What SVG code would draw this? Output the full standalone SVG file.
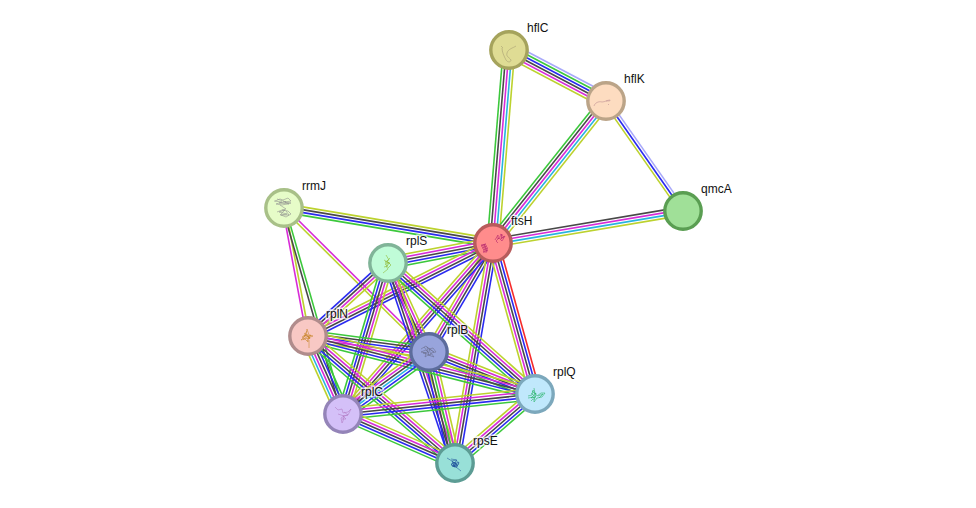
<svg xmlns="http://www.w3.org/2000/svg" width="976" height="508" viewBox="0 0 976 508">
<style>
  line { stroke-width: 1.6; fill: none; }
  .g { stroke: #3cc83c; } .b { stroke: #2a2af0; } .k { stroke: #484848; } .m { stroke: #d82bd8; }
  .c { stroke: #28b4e0; } .y { stroke: #bcd22e; } .r { stroke: #f52a2a; } .l { stroke: #a8a8fa; }
  circle { stroke-width: 3.4; }
  .fold { fill: none; stroke-width: 0.55; stroke-linejoin: round; }
  text { font-family: "Liberation Sans", Arial, sans-serif; font-size: 12px; fill: #111; stroke: #fff; stroke-width: 3px; stroke-opacity: 0.7; paint-order: stroke; }
</style>
<defs>
  <!-- evidence bundles: unit length along x, spaced across y -->
  <g id="lby"><line class="l" x2="1" y1="-2.8" y2="-2.8"/><line class="b" x2="1"/><line class="y" x2="1" y1="2.8" y2="2.8"/></g>
  <g id="my"><line class="m" x2="1" y1="-1.4" y2="-1.4"/><line class="y" x2="1" y1="1.4" y2="1.4"/></g>
  <g id="kg"><line class="k" x2="1" y1="-1.4" y2="-1.4"/><line class="g" x2="1" y1="1.4" y2="1.4"/></g>
  <g id="ykbg"><line class="y" x2="1" y1="-4.2" y2="-4.2"/><line class="k" x2="1" y1="-1.4" y2="-1.4"/><line class="b" x2="1" y1="1.4" y2="1.4"/><line class="g" x2="1" y1="4.2" y2="4.2"/></g>
  <g id="kmcy"><line class="k" x2="1" y1="-4.2" y2="-4.2"/><line class="m" x2="1" y1="-1.4" y2="-1.4"/><line class="c" x2="1" y1="1.4" y2="1.4"/><line class="y" x2="1" y1="4.2" y2="4.2"/></g>
  <g id="ymkb"><line class="y" x2="1" y1="-4.2" y2="-4.2"/><line class="m" x2="1" y1="-1.4" y2="-1.4"/><line class="k" x2="1" y1="1.4" y2="1.4"/><line class="b" x2="1" y1="4.2" y2="4.2"/></g>
  <g id="bkmy"><line class="b" x2="1" y1="-4.2" y2="-4.2"/><line class="k" x2="1" y1="-1.4" y2="-1.4"/><line class="m" x2="1" y1="1.4" y2="1.4"/><line class="y" x2="1" y1="4.2" y2="4.2"/></g>
  <g id="gkmcy"><line class="g" x2="1" y1="-5.8" y2="-5.8"/><line class="k" x2="1" y1="-2.9" y2="-2.9"/><line class="m" x2="1"/><line class="c" x2="1" y1="2.9" y2="2.9"/><line class="y" x2="1" y1="5.8" y2="5.8"/></g>
  <g id="ymkbg"><line class="y" x2="1" y1="-5.6" y2="-5.6"/><line class="m" x2="1" y1="-2.8" y2="-2.8"/><line class="k" x2="1"/><line class="b" x2="1" y1="2.8" y2="2.8"/><line class="g" x2="1" y1="5.6" y2="5.6"/></g>
  <g id="ymkbr"><line class="y" x2="1" y1="-5.6" y2="-5.6"/><line class="m" x2="1" y1="-2.8" y2="-2.8"/><line class="k" x2="1"/><line class="b" x2="1" y1="2.8" y2="2.8"/><line class="r" x2="1" y1="5.6" y2="5.6"/></g>
  <g id="gbkmy"><line class="g" x2="1" y1="-5.6" y2="-5.6"/><line class="b" x2="1" y1="-2.8" y2="-2.8"/><line class="k" x2="1"/><line class="m" x2="1" y1="2.8" y2="2.8"/><line class="y" x2="1" y1="5.6" y2="5.6"/></g>
  <g id="bkgmy"><line class="b" x2="1" y1="-5.6" y2="-5.6"/><line class="k" x2="1" y1="-2.8" y2="-2.8"/><line class="g" x2="1"/><line class="m" x2="1" y1="2.8" y2="2.8"/><line class="y" x2="1" y1="5.6" y2="5.6"/></g>
  <g id="gkbmy"><line class="g" x2="1" y1="-5.6" y2="-5.6"/><line class="k" x2="1" y1="-2.8" y2="-2.8"/><line class="b" x2="1"/><line class="m" x2="1" y1="2.8" y2="2.8"/><line class="y" x2="1" y1="5.6" y2="5.6"/></g>
  <g id="lgbkmy"><line class="l" x2="1" y1="-7" y2="-7"/><line class="g" x2="1" y1="-4.2" y2="-4.2"/><line class="b" x2="1" y1="-1.4" y2="-1.4"/><line class="k" x2="1" y1="1.4" y2="1.4"/><line class="m" x2="1" y1="4.2" y2="4.2"/><line class="y" x2="1" y1="7" y2="7"/></g>
  <g id="ycmkbg"><line class="y" x2="1" y1="-7" y2="-7"/><line class="c" x2="1" y1="-4.2" y2="-4.2"/><line class="m" x2="1" y1="-1.4" y2="-1.4"/><line class="k" x2="1" y1="1.4" y2="1.4"/><line class="b" x2="1" y1="4.2" y2="4.2"/><line class="g" x2="1" y1="7" y2="7"/></g>
  <g id="ymkcbg"><line class="y" x2="1" y1="-7" y2="-7"/><line class="m" x2="1" y1="-4.2" y2="-4.2"/><line class="k" x2="1" y1="-1.4" y2="-1.4"/><line class="c" x2="1" y1="1.4" y2="1.4"/><line class="b" x2="1" y1="4.2" y2="4.2"/><line class="g" x2="1" y1="7" y2="7"/></g>
</defs>

<g id="connectors">
  <use id="hflC-hflK" href="#lgbkmy" transform="matrix(97 51 -.465 .885 509 50)"/>
  <use id="ftsH-hflC" href="#gkmcy" transform="matrix(16 -193 .996 .083 493 243)"/>
  <use id="ftsH-hflK" href="#gkmcy" transform="matrix(113 -142 .782 .623 493 243)"/>
  <use id="hflK-qmcA" href="#lby" transform="matrix(77 110 -.819 .573 606 101)"/>
  <use id="ftsH-qmcA" href="#kmcy" transform="matrix(190 -32 .166 .986 493 243)"/>
  <use id="rrmJ-ftsH" href="#ykbg" transform="matrix(209 35 -.165 .986 284 208)"/>
  <use id="rplN-rrmJ" href="#my" transform="matrix(-24 -128 .983 -.184 308 336)"/>
  <use id="rplC-rrmJ" href="#kg" transform="matrix(-59 -206 .961 -.275 343 414)"/>
  <use id="rrmJ-rplB" href="#my" transform="matrix(145 144 -.705 .709 284 208)"/>
  <use id="rplS-ftsH" href="#ymkbg" transform="matrix(105 -20 .187 .982 388 263)"/>
  <use id="rplN-ftsH" href="#ymkb" transform="matrix(185 -93 .449 .894 308 336)"/>
  <use id="rplB-ftsH" href="#ymkb" transform="matrix(64 -109 .862 .506 429 352)"/>
  <use id="rplC-ftsH" href="#ymkb" transform="matrix(150 -171 .752 .659 343 414)"/>
  <use id="rpsE-ftsH" href="#ymkb" transform="matrix(38 -220 .985 .170 455 463)"/>
  <use id="rplQ-ftsH" href="#ymkbr" transform="matrix(-42 -151 .964 -.268 535 394)"/>
  <use id="rplN-rplS" href="#bkmy" transform="matrix(80 -73 .674 .739 308 336)"/>
  <use id="rplB-rplS" href="#bkmy" transform="matrix(-41 -89 .908 -.418 429 352)"/>
  <use id="rplS-rplQ" href="#ymkbg" transform="matrix(147 131 -.665 .747 388 263)"/>
  <use id="rplC-rplS" href="#gbkmy" transform="matrix(45 -151 .958 .286 343 414)"/>
  <use id="rpsE-rplS" href="#bkmy" transform="matrix(-67 -200 .948 -.318 455 463)"/>
  <use id="rpsE-rplB" href="#bkgmy" transform="matrix(-26 -111 .974 -.228 455 463)"/>
  <use id="rplB-rplQ" href="#ymkbg" transform="matrix(106 42 -.368 .930 429 352)"/>
  <use id="rplN-rplB" href="#gkbmy" transform="matrix(121 16 -.131 .991 308 336)"/>
  <use id="rplN-rplQ" href="#ymkbg" transform="matrix(227 58 -.248 .969 308 336)"/>
  <use id="rplC-rplN" href="#ycmkbg" transform="matrix(-35 -78 .912 -.409 343 414)"/>
  <use id="rplN-rpsE" href="#ymkbg" transform="matrix(147 127 -.654 .757 308 336)"/>
  <use id="rplC-rplB" href="#ymkcbg" transform="matrix(86 -62 .585 .811 343 414)"/>
  <use id="rplC-rplQ" href="#ymkbg" transform="matrix(192 -20 .104 .995 343 414)"/>
  <use id="rplC-rpsE" href="#ymkbg" transform="matrix(112 49 -.401 .916 343 414)"/>
  <use id="rpsE-rplQ" href="#ymkbg" transform="matrix(80 -69 .653 .757 455 463)"/>
</g>

<g id="node-hflC">
  <circle cx="509" cy="50" r="18.2" fill="#dfdc94" stroke="#a5a35c"/>
  <path class="fold" stroke="#a39a70" d="M502 48c0 4 2 8 4 12 2 3 5 2 5 0-2-3-5-3-4-7 1-4 6-5 9-7M501 46l2 2"/>
  <text x="527" y="32">hflC</text>
</g>
<g id="node-hflK">
  <circle cx="606" cy="101" r="18.2" fill="#fddcc0" stroke="#bba488"/>
  <path class="fold" stroke="#b98a90" d="M594 106c1-3 4-5 8-4 3 0 5-2 8-2 1 1-2 1-4 1M608 104l1 1"/>
  <text x="624" y="83">hflK</text>
</g>
<g id="node-qmcA">
  <circle cx="683" cy="211" r="18.2" fill="#a0e098" stroke="#5a9e52"/>
  <text x="701" y="193">qmcA</text>
</g>
<g id="node-ftsH">
  <circle cx="493" cy="243" r="18.2" fill="#ff8c8c" stroke="#b85c5c"/>
  <path class="fold" stroke="#b0206a" d="M481 245l5-1-5 2 6 0-5 2 6 0-5 2 5 0-5 2 4 0M484 244l3 8M495 240l3-5 0 4 4-5-1 5 4-3-3 5-3-3-3 3 2 2M500 234l4 3-3 1"/>
  <text x="511" y="225">ftsH</text>
</g>
<g id="node-rrmJ">
  <circle cx="284" cy="208" r="18.2" fill="#e6fcc8" stroke="#a8c088"/>
  <path class="fold" stroke="#8c8c8c" d="M275 201l5-2 3 1 5-2 3 3-6 1 6 1-9 2-6-1 6-2-8-1M277 199l9 3-7 1 10 1-6-3M277 212l5-2 6 1 3 3-5 3-5-2 6-1-8-2 6-2-5 5 9 0-3-4M280 205l6 4-4 1"/>
  <text x="302" y="190">rrmJ</text>
</g>
<g id="node-rplS">
  <circle cx="388" cy="263" r="18.2" fill="#c0fcd8" stroke="#80b498"/>
  <path class="fold" stroke="#8cb428" stroke-width="0.8" d="M386 255l3 5-4 2 5 1-4 3 2 3-5 4M390 258l-3 3 4 4-3 3M384 260l5 3-4 1 3 2-4 1"/>
  <text x="406" y="245">rplS</text>
</g>
<g id="node-rplN">
  <circle cx="308" cy="336" r="18.2" fill="#f8c8c4" stroke="#b08c8c"/>
  <path class="fold" stroke="#c88428" d="M302 338l4-3 1-6 2 6 4 1-5 2 0 4-3-3-4 1 5-5 4 4-3-5-5 3M309 340l0 8M304 333l6 5-7 1 8-4-4 6M307 331l-3 5 6 0"/>
  <text x="326" y="318">rplN</text>
</g>
<g id="node-rplB">
  <circle cx="429" cy="352" r="18.2" fill="#98a4dc" stroke="#5c6c9c"/>
  <path class="fold" stroke="#666a88" d="M421 349l5-3 3 3 4-1 3 4-5 1 3 4-6-2-3 2 1-4-5-1 5-2 3 3M424 347l4 5-5 1 8 2-2-6 5 3-7-5 2 9"/>
  <text x="447" y="334">rplB</text>
</g>
<g id="node-rplQ">
  <circle cx="535" cy="394" r="18.2" fill="#c0e8fc" stroke="#7ca8bc"/>
  <path class="fold" stroke="#20b060" d="M528 396l4-1 1-5 2 3 2 3 4-3 4 0-3 4-5 1-3 4 0-5-6 1M533 399l-2 2M531 393l5 4-5 1 5-5-2 7M538 396l5-2-4 4M534 388l1 6-3-3"/>
  <text x="553" y="376">rplQ</text>
</g>
<g id="node-rplC">
  <circle cx="343" cy="414" r="18.2" fill="#d4c0f8" stroke="#9484b8"/>
  <path class="fold" stroke="#b078c0" d="M335 407l3 3 4-1 1 4 5-1 3-3-3 6-4 1-1 5-1 2-1-5 3-2-6-2M344 412l4 3-5 1 3 3-4 0"/>
  <text x="361" y="396">rplC</text>
</g>
<g id="node-rpsE">
  <circle cx="455" cy="463" r="18.2" fill="#98e0d8" stroke="#5c9c94"/>
  <path class="fold" stroke="#20509c" d="M447 458l5 3 4-1 3 4-4 3-4-2 3-3 3 3-5 1 4 1 5 4M452 462l5 2-4 2 5 0-6-5 3 6-4-3 5-2-2 5M451 459l6 1-4 5 6-3-3 6"/>
  <text x="473" y="445">rpsE</text>
</g>
</svg>
